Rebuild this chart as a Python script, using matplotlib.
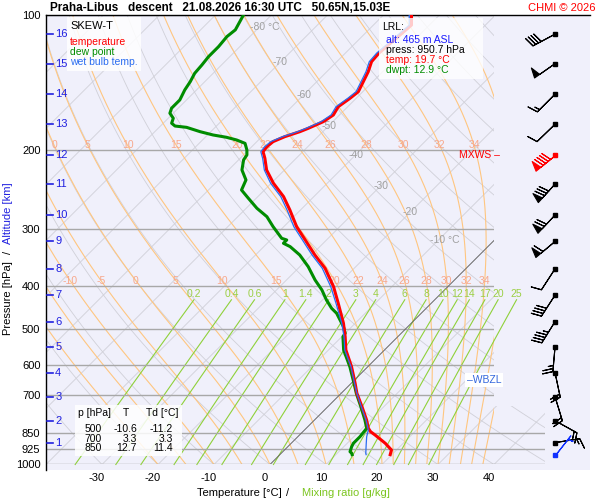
import numpy as np
import matplotlib
matplotlib.use("Agg")
import matplotlib.pyplot as plt
from matplotlib.patches import Rectangle, Polygon
from matplotlib.ticker import NullLocator
from matplotlib.transforms import ScaledTranslation, blended_transform_factory

plt.rcParams['font.family'] = ['Liberation Sans', 'DejaVu Sans']

# -------- sounding values --------
t_pres = [100.0, 105.3, 121.6, 127.0, 133.7, 140.7, 148.1, 153.2, 159.9, 166.9, 172.7,
          178.7, 181.8, 186.5, 191.3, 196.3, 201.4, 208.3, 221.2, 236.8, 253.6, 271.5,
          295.8, 316.6, 341.9, 366.0, 402.2, 437.9, 485.1, 519.6, 556.2, 606.0, 659.7,
          694.4, 743.7, 796.1, 830.7, 845.3, 859.8, 897.1, 928.4, 950.7]
t_temp = [-55.0, -53.2, -54.0, -53.8, -52.6, -51.7, -50.8, -51.1, -51.7, -51.1, -51.7,
          -53.2, -54.1, -55.9, -57.1, -57.3, -57.1, -55.6, -53.2, -49.6, -45.4, -41.9,
          -37.7, -33.8, -29.4, -25.2, -20.4, -16.6, -12.1, -9.4, -6.9, -2.9, 0.7,
          2.8, 6.1, 9.3, 11.1, 12.1, 13.5, 16.8, 19.1, 19.7]

td_pres = [100.0, 107.9, 111.7, 117.6, 123.8, 129.2, 134.8, 140.7, 146.8, 154.5, 161.2,
           165.4, 169.7, 174.1, 176.6, 177.8, 181.8, 184.9, 187.1, 189.7, 193.0, 199.6,
           204.8, 210.1, 221.2, 232.8, 245.1, 255.7, 269.1, 281.0, 295.8, 313.9, 316.6,
           322.0, 327.6, 341.9, 363.0, 388.6, 409.0, 430.5, 449.2, 460.9, 493.6, 510.6,
           519.6, 556.2, 606.0, 659.7, 694.4, 743.7, 796.1, 830.7, 867.3, 882.0, 897.1,
           912.8, 936.5, 944.2, 950.7]
td_temp = [-85.0, -83.8, -84.1, -83.8, -83.8, -83.5, -83.3, -82.6, -82.1, -81.2, -81.2,
           -80.6, -79.1, -78.5, -77.4, -75.1, -71.9, -69.0, -66.2, -63.9, -61.8, -60.3,
           -59.4, -59.1, -57.6, -55.1, -54.1, -51.4, -48.1, -44.8, -41.9, -38.3, -37.1,
           -37.1, -35.3, -32.1, -28.5, -24.9, -21.9, -19.3, -16.9, -15.1, -11.5, -10.0,
           -9.8, -7.3, -3.2, 0.5, 2.7, 5.9, 9.0, 10.8, 11.1, 11.1, 11.1,
           11.4, 12.0, 12.6, 12.9]

tw_pres = [100.0, 105.3, 121.6, 127.0, 133.7, 140.7, 148.1, 153.2, 159.9, 166.9, 172.7,
           178.7, 181.8, 186.5, 191.3, 196.3, 201.4, 208.3, 221.2, 236.8, 253.6, 271.5,
           295.8, 316.6, 341.9, 366.0, 402.2, 437.9, 485.1, 519.6, 556.2, 606.0, 659.7,
           694.4, 743.7, 796.1, 838.0, 867.3, 897.1, 944.2, 950.7]
tw_temp = [-55.4, -53.6, -54.4, -54.2, -53.0, -52.1, -51.2, -51.5, -52.1, -51.5, -52.1,
           -53.6, -54.5, -56.3, -57.5, -57.7, -57.5, -56.0, -53.6, -50.1, -45.9, -42.4,
           -38.2, -34.3, -29.9, -25.7, -20.9, -17.0, -12.4, -9.6, -7.1, -3.0, 0.6,
           2.8, 6.0, 9.2, 11.4, 12.3, 13.4, 15.1, 15.4]

# altitude (km) marks and winds at those heights
km_levels = [16, 15, 14, 13, 12, 11, 10, 9, 8, 7, 6, 5, 4, 3, 2, 1]
km_pres = [110.3, 128.3, 150.0, 175.0, 204.8, 237.7, 278.6, 319.0, 367.0, 420.0,
           481.0, 547.0, 625.0, 707.0, 799.0, 894.0]
wind_dir = [242, 235, 225, 226, 231, 222, 223, 230, 213, 213, 212, 185, 168, 163, 119, 81]
wind_kt = [40, 50, 15, 10, 90, 80, 70, 60, 10, 40, 45, 25, 20, 20, 20, 15]
mxws_km = 12
sfc_pres = 950.7
sfc_dir = 38
sfc_kt = 5

p_ticks = [100, 200, 300, 400, 500, 600, 700, 850, 925, 1000]
t_ticks = [-30, -20, -10, 0, 10, 20, 30, 40]
isotherms = np.arange(-130, 60, 10)
dry_theta = np.arange(-50, 190, 10)
theta_w = [-20, -15, -10, -5, 0, 5, 10, 15, 20, 22, 24, 26, 28, 30, 32, 34, 36, 38]
theta_w_lab200 = [0, 5, 10, 15, 20, 22, 24, 26, 28, 30, 32, 34]
theta_w_lab400 = [-10, -5, 0, 5, 10, 15, 20, 22, 24, 26, 28, 30, 32, 34]
mix_ratios = [0.2, 0.4, 0.6, 1, 1.4, 2, 3, 4, 6, 8, 10, 12, 14, 17, 20, 25]
iso_lab_t = [-80, -70, -60, -50, -40, -30, -20, -10]
iso_lab_p = [106.4, 127.2, 150.6, 176.5, 204.8, 240.0, 274.5, 316.6]

table_rows = [("500", "-10.6", "-11.2"), ("700", "3.3", "3.3"), ("850", "12.7", "11.4")]
lrl_alt = 465
lrl_press = 950.7
lrl_temp = 19.7
lrl_dwpt = 12.9
wbzl_pres = 648.6

K = 195.2 / 5.6  # skew: deg C per unit of ln(p)


def skew_x(t, p):
    return np.asarray(t, dtype=float) + K * np.log(1000.0 / np.asarray(p, dtype=float))


def sat_mr(t, p):
    e = 6.112 * np.exp(17.67 * t / (t + 243.5))
    return 622.0 * e / (p - e)


def moist_adiabat(tw, plev):
    Rd, cp, Lv, eps = 287.04, 1005.7, 2.501e6, 0.622

    def dTdp(T, p):
        rs = sat_mr(T - 273.15, p) / 1000.0
        return (Rd * T + Lv * rs) / (cp + Lv * Lv * rs * eps / (Rd * T * T)) / p

    T = tw + 273.15
    out = [T]
    for p0, p1 in zip(plev[:-1], plev[1:]):
        k1 = dTdp(T, p0)
        k2 = dTdp(T + k1 * (p1 - p0) / 2, (p0 + p1) / 2)
        T = T + k2 * (p1 - p0)
        out.append(T)
    return np.array(out) - 273.15


def fx(px):
    return px / 600.0


def fy(py):
    return 1.0 - py / 500.0


fig = plt.figure(figsize=(6, 5), dpi=100)
ax = fig.add_axes([fx(46), 30 / 500, 544 / 600, 455 / 500])
ax.set_yscale('log')
ax.set_ylim(1028.6, 100)
ax.set_xlim(-40, 57.14)
ax.set_facecolor('#f0f0fb')
for s in ['right', 'bottom']:
    ax.spines[s].set_visible(False)
for s in ['left', 'top']:
    ax.spines[s].set_color('black')
    ax.spines[s].set_linewidth(1.0)

grid_clip = Polygon([(-40, 100), (40, 100), (40, 740), (49.1, 740), (49.1, 1000), (-40, 1000)],
                    closed=True, transform=ax.transData)
rect_clip = Rectangle((-40, 100), 80, 900, transform=ax.transData)

# pressure lines
for p in p_ticks:
    ln, = ax.plot([-40, 60], [p, p], color='#a8a8a8', lw=1.0, zorder=1.5)
    ln.set_clip_path(grid_clip)

# isotherms
for t in isotherms:
    ln, = ax.plot(skew_x(t, [1000, 100]), [1000, 100], color='#d0d0d8', lw=0.6, zorder=1)
    ln.set_clip_path(grid_clip)

# dry adiabats
plev = np.geomspace(1000, 100, 80)
for th in dry_theta:
    tt = (th + 273.15) * (plev / 1000.0) ** 0.2857 - 273.15
    ln, = ax.plot(skew_x(tt, plev), plev, color='#d0d0d8', lw=0.6, zorder=1)
    ln.set_clip_path(grid_clip)

# isotherm labels
for t, p in zip(iso_lab_t, iso_lab_p):
    if t in (-80, -10):
        ax.annotate(f"{t} °C", (skew_x(t, p), p), xytext=(-9, 0), textcoords='offset pixels',
                    ha='left', va='center', fontsize=7.5, color='#a0a0a0', zorder=2)
    else:
        ax.text(skew_x(t, p), p, f"{t}", ha='center', va='center', fontsize=7.5,
                color='#a0a0a0', zorder=2)

# moist adiabats
mplev = np.geomspace(1000, 100, 300)
lnp = np.log(mplev[::-1])
for tw in theta_w:
    tt = moist_adiabat(tw, mplev)
    xs = skew_x(tt, mplev)
    ln, = ax.plot(xs, mplev, color='#ffc680', lw=0.8, zorder=1.2)
    ln.set_clip_path(rect_clip)
    for labs, pl in ((theta_w_lab200, 195.0), (theta_w_lab400, 390.0)):
        if tw in labs:
            xl = np.interp(np.log(pl), lnp, xs[::-1])
            ax.text(xl, pl, f"{tw}", ha='center', va='center', fontsize=7.5,
                    color='#f7a88c', zorder=2)

# 0 degC isotherm
ln, = ax.plot(skew_x(0, [1000, 100]), [1000, 100], color='#606060', lw=0.6, zorder=1.6)
ln.set_clip_path(rect_clip)

# mixing ratio lines
mrp = np.geomspace(1000, 430, 30)
for w in mix_ratios:
    e = w * mrp / (622.0 + w)
    lg = np.log(e / 6.112)
    tt = 243.5 * lg / (17.67 - lg)
    xs = skew_x(tt, mrp)
    ax.plot(xs, mrp, color='#8fd13a', lw=0.8, zorder=1.3)
    ax.text(xs[-1], 417.5, f"{w:g}", ha='center', va='center', fontsize=7.5,
            color='#9ccf45', zorder=2)

# profiles
ax.plot(skew_x(td_temp, td_pres), td_pres, color='#008c00', lw=2.2, zorder=3)
ax.plot(skew_x(t_temp, t_pres), t_pres, color='#ff0000', lw=2.2, zorder=3.5)
ax.plot(skew_x(tw_temp, tw_pres), tw_pres, color='#2a6cf0', lw=0.9, zorder=4)

# altitude marks on the pressure axis
bt = blended_transform_factory(ax.transAxes, ax.transData)
for km, p in zip(km_levels, km_pres):
    ax.plot([0.002, 0.013], [p, p], color='#2020e0', lw=1.2, transform=bt, zorder=6)
    ax.text(0.017, p, str(km), color='#2020e0', fontsize=8, ha='left', va='center',
            transform=bt, zorder=6)

# winds
bx = 50.9
rad = np.radians(wind_dir)
spd = np.array(wind_kt, dtype=float)
u = -spd * np.sin(rad)
v = -spd * np.cos(rad)
kp = np.array(km_pres)
idx = [i for i, k in enumerate(km_levels) if k != mxws_km]
im = km_levels.index(mxws_km)
ax.barbs(np.full(len(idx), bx), kp[idx], u[idx], v[idx], length=6, pivot='tip',
         color='black', lw=0.8, zorder=6)
ax.barbs([bx], [kp[im]], [u[im]], [v[im]], length=6, pivot='tip', color='red', lw=0.8, zorder=6)
ax.plot(np.full(len(idx), bx), kp[idx], 's', ms=2.5, color='black', zorder=7)
ax.plot([bx], [kp[im]], 's', ms=2.5, color='red', zorder=7)
su = -sfc_kt * np.sin(np.radians(sfc_dir))
sv = -sfc_kt * np.cos(np.radians(sfc_dir))
ax.barbs([bx], [sfc_pres], [su], [sv], length=6, pivot='tip', color='#1030ff', lw=0.8, zorder=6)
ax.plot([bx], [sfc_pres], 's', ms=2.5, color='#1030ff', zorder=7)

ax.text(0.7595, kp[im], "MXWS \u2013", transform=bt, color='red', fontsize=7.5,
        ha='left', va='center', zorder=7)
ax.text(0.773, wbzl_pres, "\u2013WBZL", transform=bt, color='#3366dd', fontsize=7.5,
        ha='left', va='center', zorder=7,
        bbox=dict(boxstyle='square,pad=0.15', fc='white', ec='none'))

# axes ticks
ax.set_yticks(p_ticks)
ax.set_yticklabels([str(p) for p in p_ticks])
ax.yaxis.set_minor_locator(NullLocator())
ax.tick_params(axis='y', length=0, pad=4, labelsize=8)
ax.set_xticks(t_ticks)
ax.set_xticklabels([str(t) for t in t_ticks])
ax.tick_params(axis='x', length=0, pad=2, labelsize=8)
for lab in ax.get_xticklabels():
    lab.set_transform(lab.get_transform() + ScaledTranslation(-0.05, 0, fig.dpi_scale_trans))

# legend box
ax.add_patch(Rectangle((fx(67), fy(71)), fx(74), 54 / 500, transform=fig.transFigure,
                       fc='white', ec='none', alpha=0.85, zorder=8))
fig.text(fx(70), fy(26), "SKEW-T", fontsize=8, va='center', color='black')
fig.text(fx(70), fy(42), "temperature", fontsize=7.5, va='center', color='red')
fig.text(fx(70), fy(52), "dew point", fontsize=7.5, va='center', color='#008c00')
fig.text(fx(70), fy(62), "wet bulb temp.", fontsize=7.5, va='center', color='#2a6cf0')

# LRL box
ax.add_patch(Rectangle((fx(379), fy(79)), fx(104), 61 / 500, transform=fig.transFigure,
                       fc='white', ec='none', alpha=0.8, zorder=8))
fig.text(fx(382), fy(27), "LRL:", fontsize=7.5, va='center', color='black')
fig.text(fx(386), fy(40), f"alt: {lrl_alt} m ASL", fontsize=7.5, va='center', color='#1a1aff')
fig.text(fx(386), fy(50), f"press: {lrl_press} hPa", fontsize=7.5, va='center', color='black')
fig.text(fx(386), fy(60), f"temp: {lrl_temp} °C", fontsize=7.5, va='center', color='red')
fig.text(fx(386), fy(70), f"dwpt: {lrl_dwpt} °C", fontsize=7.5, va='center', color='#008c00')

# table box
ax.add_patch(Rectangle((fx(75), fy(456)), fx(107), 51 / 500, transform=fig.transFigure,
                       fc='white', ec='none', alpha=0.85, zorder=8))
fig.text(fx(78), fy(413), "p [hPa]", fontsize=7.5, va='center')
fig.text(fx(126), fy(413), "T", fontsize=7.5, va='center', ha='center')
fig.text(fx(146), fy(413), "Td [°C]", fontsize=7.5, va='center')
for row, yy in zip(table_rows, [429, 438.5, 448]):
    for txt, xr in zip(row, [102, 137, 173]):
        fig.text(fx(xr), fy(yy), txt, fontsize=7.5, va='center', ha='right')

# titles and axis labels
fig.text(fx(50), fy(8), "Praha-Libus   descent   21.08.2026 16:30 UTC   50.65N,15.03E",
         fontsize=8.5, fontweight='bold', va='center')
fig.text(fx(596), fy(8), "CHMI © 2026", fontsize=8, color='red', va='center', ha='right')
fig.text(fx(8), fy(298), "Pressure [hPa]", fontsize=8, rotation=90, ha='center', va='center')
fig.text(fx(8), fy(252), "/", fontsize=8, rotation=90, ha='center', va='center')
fig.text(fx(8), fy(213), "Altitude [km]", fontsize=8, rotation=90, ha='center', va='center',
         color='#2020e0')
fig.text(fx(197), fy(493), "Temperature [°C]", fontsize=8, va='center')
fig.text(fx(288), fy(493), "/", fontsize=8, va='center', ha='center')
fig.text(fx(302), fy(493), "Mixing ratio [g/kg]", fontsize=8, va='center', color='#7cc520')

fig.savefig("out.png", dpi=100)
